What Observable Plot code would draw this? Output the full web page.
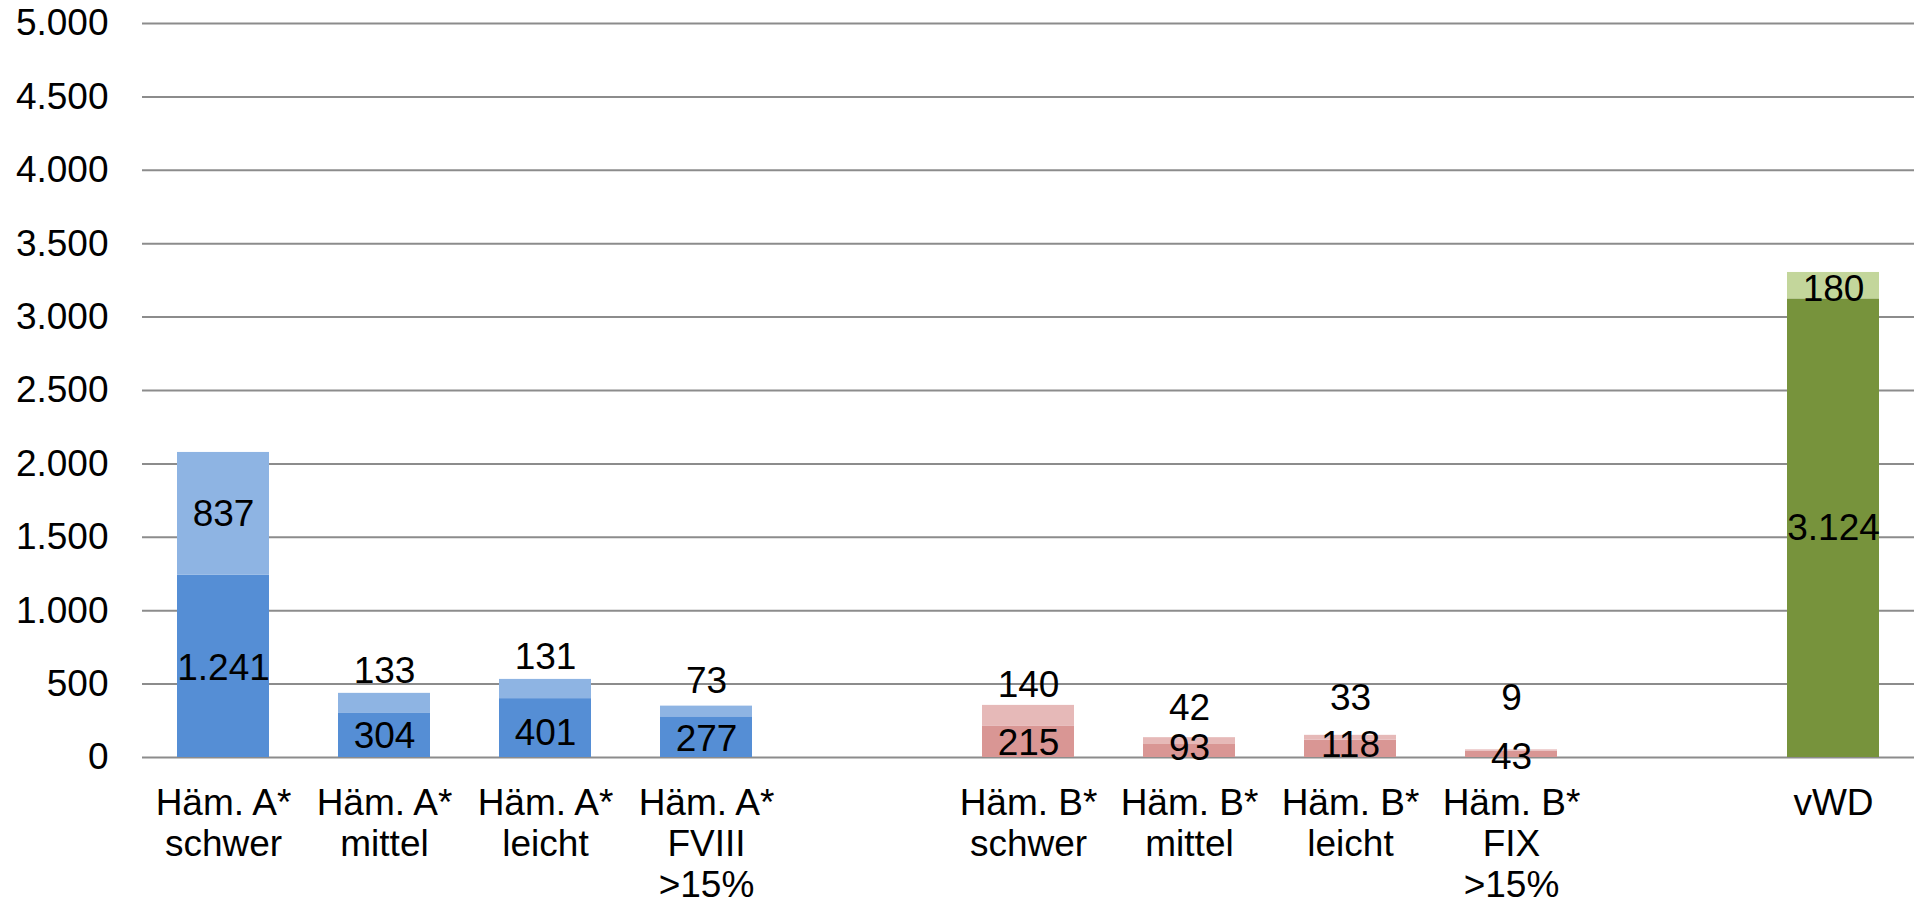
<!DOCTYPE html>
<html>
<head>
<meta charset="utf-8">
<script src="https://cdn.jsdelivr.net/npm/d3@7"></script>
<script src="https://cdn.jsdelivr.net/npm/@observablehq/plot@0.6"></script>
<style>
  html, body { margin: 0; padding: 0; background: #fff; }
  #chart { width: 1914px; height: 904px; }
</style>
</head>
<body>
<div id="chart"></div>
<script>
// Categories (two empty slots separate the groups)
const categories = ["A1", "A2", "A3", "A4", "gap1", "B1", "B2", "B3", "B4", "gap2", "V"];
const categoryLabels = {
  A1: "Häm. A*\nschwer", A2: "Häm. A*\nmittel", A3: "Häm. A*\nleicht", A4: "Häm. A*\nFVIII\n>15%",
  B1: "Häm. B*\nschwer", B2: "Häm. B*\nmittel", B3: "Häm. B*\nleicht", B4: "Häm. B*\nFIX\n>15%",
  V: "vWD", gap1: "", gap2: ""
};
const barCats = ["A1", "A2", "A3", "A4", "B1", "B2", "B3", "B4", "V"];
const lowerValues = [1241, 304, 401, 277, 215, 93, 118, 43, 3124];
const upperValues = [837, 133, 131, 73, 140, 42, 33, 9, 180];
// where each value label sits (value units)
const lowerLabelAt = [609, 145, 169, 128, 97, 63, 86, 0, 1565];
const upperLabelAt = [1659, 585, 685, 519, 493, 335, 403, 403, 3193];
const groupOf = ["A", "A", "A", "A", "B", "B", "B", "B", "V"];
const lowerColor = {A: "#558ED5", B: "#D99694", V: "#77933C"};
const upperColor = {A: "#8EB4E3", B: "#E6B9B8", V: "#C3D69B"};
const yTicks = [0, 500, 1000, 1500, 2000, 2500, 3000, 3500, 4000, 4500, 5000];

const fmt = v => d3.format(",")(v).replace(/,/g, ".");

const rows = [];
barCats.forEach((c, i) => {
  rows.push({cat: c, part: 0, value: lowerValues[i], color: lowerColor[groupOf[i]], labelAt: lowerLabelAt[i]});
  rows.push({cat: c, part: 1, value: upperValues[i], color: upperColor[groupOf[i]], labelAt: upperLabelAt[i]});
});

const font = "'Liberation Sans', Arial, sans-serif";

const chart = Plot.plot({
  width: 1914,
  height: 904,
  marginLeft: 142,
  marginRight: 0,
  marginTop: 23,
  marginBottom: 147,
  style: {fontFamily: font, background: "#fff", color: "#000"},
  x: {domain: categories, paddingInner: 0.43, paddingOuter: 0.215, align: 0.5, axis: null},
  y: {domain: [0, 5000], axis: null},
  color: {type: "identity"},
  marks: [
    Plot.ruleY(yTicks, {stroke: "#8c8c8c", strokeWidth: 2}),
    Plot.text(yTicks, {
      y: d => d, frameAnchor: "left", text: d => fmt(d), textAnchor: "end",
      dx: -34, fontSize: 37, fill: "#000"
    }),
    Plot.barY(rows, Plot.stackY({x: "cat", y: "value", z: "part", order: "z", fill: "color"})),
    Plot.text(rows, {
      x: "cat", y: "labelAt", text: d => fmt(d.value), fontSize: 37, fill: "#000"
    }),
    Plot.text(categories, {
      x: d => d, y: 0, text: d => categoryLabels[d], lineAnchor: "top",
      dy: 29, lineHeight: 1.1, fontSize: 37, fill: "#000"
    })
  ]
});
document.getElementById("chart").appendChild(chart);
</script>
</body>
</html>
